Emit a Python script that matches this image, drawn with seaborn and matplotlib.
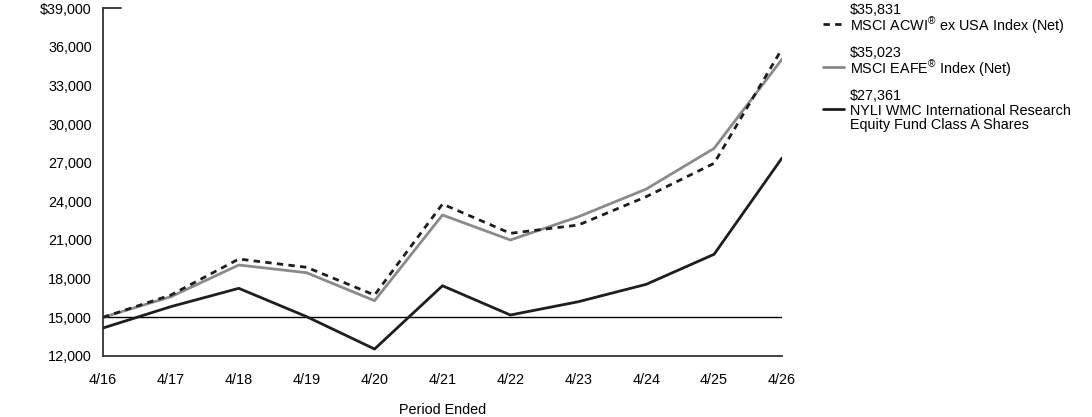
import matplotlib
matplotlib.use("Agg")
import matplotlib.pyplot as plt
import seaborn as sns
import pandas as pd
from matplotlib.lines import Line2D

periods = ["4/16", "4/17", "4/18", "4/19", "4/20", "4/21", "4/22", "4/23", "4/24", "4/25", "4/26"]
acwi = [15000, 16730, 19525, 18880, 16730, 23790, 21520, 22160, 24360, 26950, 35831]
eafe = [15000, 16600, 19060, 18460, 16290, 22940, 21000, 22800, 24950, 28110, 35023]
fund = [14170, 15830, 17250, 15050, 12540, 17450, 15180, 16210, 17560, 19890, 27361]
y_ticks = [12000, 15000, 18000, 21000, 24000, 27000, 30000, 33000, 36000, 39000]
baseline = 15000

names = [["MSCI ACWI$^{\\circledR}$ ex USA Index (Net)"],
         ["MSCI EAFE$^{\\circledR}$ Index (Net)"],
         ["NYLI WMC International Research", "Equity Fund Class A Shares"]]
end_values = ["$35,831", "$35,023", "$27,361"]

FS = 10.4
sns.set_theme(style="white")
plt.rcParams["font.family"] = ["Liberation Sans", "DejaVu Sans"]
plt.rcParams["mathtext.fontset"] = "custom"
plt.rcParams["mathtext.rm"] = "Liberation Sans"
plt.rcParams["mathtext.it"] = "Liberation Sans"
plt.rcParams["mathtext.bf"] = "Liberation Sans"

fig = plt.figure(figsize=(10.92, 4.17), dpi=100)
ax = fig.add_axes([0.0943, 0.1463, 0.6218, 0.8345])

x = list(range(len(periods)))
df = pd.DataFrame({"x": x, "acwi": acwi, "eafe": eafe, "fund": fund})

ax.axhline(baseline, color="black", lw=1.0, zorder=1)
sns.lineplot(data=df, x="x", y="eafe", ax=ax, color="#8a8a8a", lw=2.0, zorder=3)
sns.lineplot(data=df, x="x", y="acwi", ax=ax, color="#1e1e1e", lw=2.0, zorder=4)
ax.lines[-1].set_dashes((2.3, 1.9))
sns.lineplot(data=df, x="x", y="fund", ax=ax, color="#1e1e1e", lw=2.0, zorder=5)

ax.set_xlim(0, len(periods) - 1)
ax.set_ylim(12000, 39000)
ax.set_xticks(x)
ax.set_xticklabels(periods, fontsize=FS, color="black")
ax.set_yticks(y_ticks)
ax.set_yticklabels([("$" if v == y_ticks[-1] else "") + f"{v:,}" for v in y_ticks],
                   fontsize=FS, color="black")
ax.tick_params(axis="x", direction="in", length=6, width=1.3, color="#333333", pad=12)
ax.tick_params(axis="y", length=0, pad=8)
ax.set_xlabel("Period Ended", fontsize=FS, color="black", labelpad=12)
ax.set_ylabel("")
for s in ["top", "right"]:
    ax.spines[s].set_visible(False)
for s in ["left", "bottom"]:
    ax.spines[s].set_color("#333333")
    ax.spines[s].set_linewidth(1.3)
ax.plot([0, 0.027], [1, 1], transform=ax.transAxes, color="#333333", lw=1.3, clip_on=False)

# legend (manual, right side)
W, H = 1092, 417
styles = [dict(color="#1e1e1e", dashes=(2.3, 1.9)), dict(color="#8a8a8a"), dict(color="#1e1e1e")]
tops = [10, 53, 96]
LH = 13.5
for val, name, st, yt in zip(end_values, names, styles, tops):
    fig.text(850 / W, 1 - yt / H, val, fontsize=FS, va="center", ha="left", color="black")
    for i, line in enumerate(name):
        fig.text(850 / W, 1 - (yt + LH * (i + 1)) / H, line, fontsize=FS, va="center_baseline",
                 ha="left", color="black")
    ly = 1 - (yt + LH) / H
    ln = Line2D([823 / W, 844 / W], [ly, ly], transform=fig.transFigure, lw=2.0,
                color=st["color"])
    if "dashes" in st:
        ln.set_dashes(st["dashes"])
    fig.add_artist(ln)

fig.savefig("out.png", dpi=100)
